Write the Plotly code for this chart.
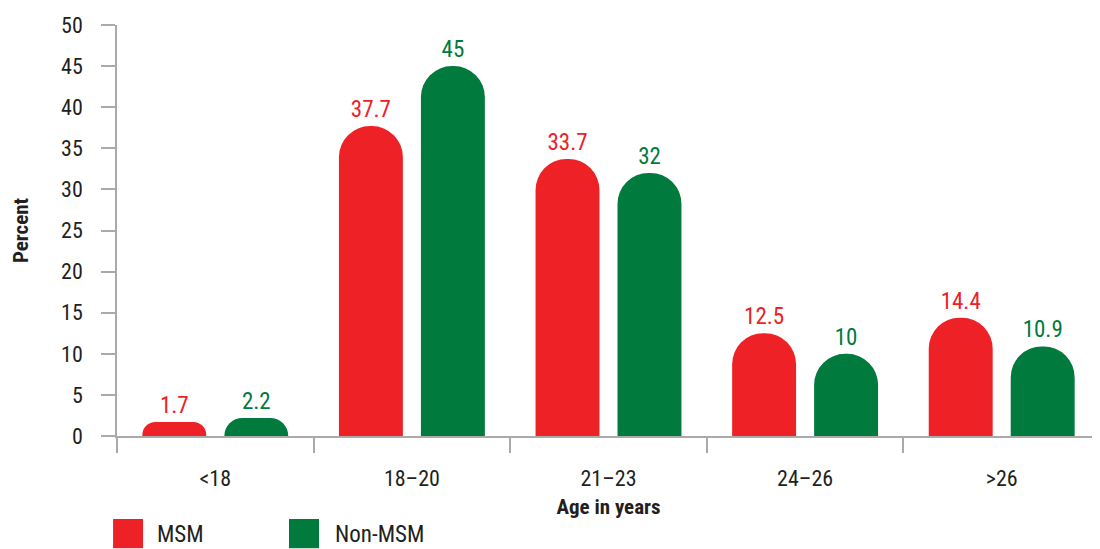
import plotly.graph_objects as go

categories = ["<18", "18–20", "21–23", "24–26", ">26"]
msm = [1.7, 37.7, 33.7, 12.5, 14.4]
non_msm = [2.2, 45, 32, 10, 10.9]
series_names = ["MSM", "Non-MSM"]
y_ticks = [0, 5, 10, 15, 20, 25, 30, 35, 40, 45, 50]

RED = "#EE2126"
GREEN = "#007A3D"
FONT = "Liberation Sans Narrow, Roboto Condensed, Arial Narrow, Roboto, sans-serif"
TXT = "#231F20"
AX = "#AAAAAA"

fig = go.Figure()
for name, vals, col in [(series_names[0], msm, RED), (series_names[1], non_msm, GREEN)]:
    fig.add_trace(go.Bar(
        x=categories, y=vals, name=name,
        marker=dict(color=col, line=dict(width=0)),
        text=[f"{v:g}" for v in vals], textposition="outside",
        textfont=dict(color=col, size=23, family=FONT), cliponaxis=False,
        showlegend=False,
    ))

fig.update_layout(
    width=1092, height=541,
    margin=dict(l=109, r=0, t=17, b=113),
    paper_bgcolor="white", plot_bgcolor="white",
    barmode="group", bargap=0.166, bargroupgap=0.22,
    barcornerradius="50%",
    font=dict(family=FONT, color=TXT, size=22),
    xaxis=dict(
        showline=True, linecolor=AX, linewidth=1.5, automargin=False,
        ticks="outside", tickson="boundaries", ticklen=15, tickcolor=AX, tickwidth=1.5,
        tickfont=dict(size=22, color=TXT), ticklabelstandoff=22,
        title=dict(text="<b>Age in years</b>", font=dict(size=21, color=TXT), standoff=9),
        showgrid=False, zeroline=False,
    ),
    yaxis=dict(
        range=[0, 50], tickvals=y_ticks, showline=True, linecolor=AX, linewidth=1.5,
        automargin=False,
        ticks="outside", ticklen=14, tickcolor=AX, tickwidth=1.5,
        tickfont=dict(size=22, color=TXT), ticklabelstandoff=14,
        title=dict(text="<b>Percent</b>", font=dict(size=21, color=TXT), standoff=27),
        showgrid=False, zeroline=False,
    ),
)

# legend swatches
legend_items = [(series_names[0], RED, -0.004, 0.0387), (series_names[1], GREEN, 0.175, 0.2197)]
for name, col, x0, tx in legend_items:
    fig.add_shape(type="rect", xref="paper", yref="paper", x0=x0, x1=x0 + 0.0305,
                  y0=-0.273, y1=-0.202, fillcolor=col, line=dict(width=0))
    fig.add_annotation(xref="paper", yref="paper", x=tx, y=-0.2385, text=name,
                       showarrow=False, xanchor="left", yanchor="middle",
                       font=dict(size=23, color=TXT, family=FONT))

fig.write_html("out.html")
